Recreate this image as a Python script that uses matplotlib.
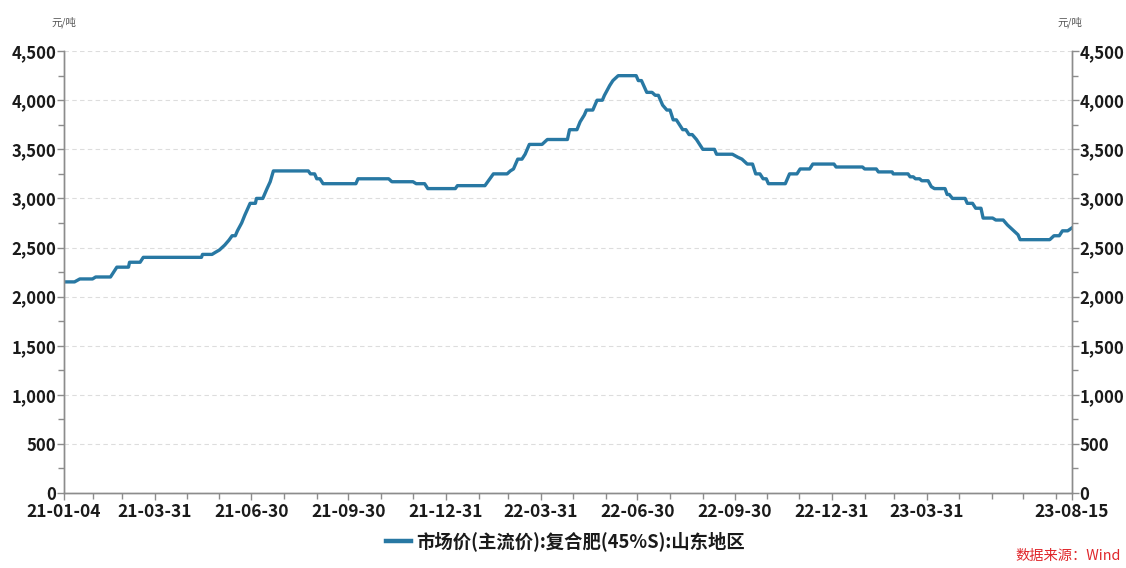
"""Compound fertilizer (45% S) market price, Shandong, 2021-01 to 2023-08."""

import matplotlib

matplotlib.use("Agg")

import matplotlib.pyplot as plt
import pandas as pd
from matplotlib.ticker import FuncFormatter, MultipleLocator

plt.rcParams["font.family"] = ["Noto Sans CJK SC", "DejaVu Sans"]

dates = [
    "2021-01-04", "2021-01-14", "2021-01-19", "2021-01-31", "2021-02-03", "2021-02-17",
    "2021-02-23", "2021-03-06", "2021-03-07", "2021-03-17", "2021-03-20", "2021-05-14",
    "2021-05-15", "2021-05-24", "2021-05-27", "2021-05-31", "2021-06-05", "2021-06-09",
    "2021-06-12", "2021-06-15", "2021-06-17", "2021-06-21", "2021-06-24", "2021-06-29",
    "2021-07-04", "2021-07-05", "2021-07-11", "2021-07-15", "2021-07-18", "2021-07-21",
    "2021-08-23", "2021-08-25", "2021-08-29", "2021-08-31", "2021-09-03", "2021-09-06",
    "2021-10-07", "2021-10-09", "2021-11-07", "2021-11-10", "2021-11-30", "2021-12-03",
    "2021-12-11", "2021-12-14", "2022-01-09", "2022-01-11", "2022-02-06", "2022-02-14",
    "2022-02-27", "2022-03-02", "2022-03-05", "2022-03-09", "2022-03-13", "2022-03-16",
    "2022-03-20", "2022-04-01", "2022-04-06", "2022-04-25", "2022-04-27", "2022-05-04",
    "2022-05-07", "2022-05-11", "2022-05-13", "2022-05-19", "2022-05-23", "2022-05-28",
    "2022-05-30", "2022-06-04", "2022-06-07", "2022-06-12", "2022-06-29", "2022-07-01",
    "2022-07-04", "2022-07-09", "2022-07-14", "2022-07-17", "2022-07-20", "2022-07-24",
    "2022-07-28", "2022-07-31", "2022-08-03", "2022-08-06", "2022-08-09", "2022-08-12",
    "2022-08-15", "2022-08-18", "2022-08-21", "2022-08-25", "2022-08-28", "2022-08-31",
    "2022-09-11", "2022-09-13", "2022-09-28", "2022-10-03", "2022-10-07", "2022-10-12",
    "2022-10-17", "2022-10-20", "2022-10-24", "2022-10-27", "2022-10-30", "2022-11-01",
    "2022-11-17", "2022-11-21", "2022-11-28", "2022-12-01", "2022-12-10", "2022-12-13",
    "2023-01-02", "2023-01-04", "2023-01-29", "2023-01-31", "2023-02-11", "2023-02-13",
    "2023-02-26", "2023-02-27", "2023-03-13", "2023-03-15", "2023-03-18", "2023-03-20",
    "2023-03-24", "2023-03-26", "2023-04-01", "2023-04-04", "2023-04-07", "2023-04-17",
    "2023-04-19", "2023-04-21", "2023-04-24", "2023-05-06", "2023-05-08", "2023-05-13",
    "2023-05-16", "2023-05-21", "2023-05-23", "2023-06-01", "2023-06-04", "2023-06-11",
    "2023-06-15", "2023-06-20", "2023-06-25", "2023-06-27", "2023-07-25", "2023-07-29",
    "2023-08-03", "2023-08-06", "2023-08-11", "2023-08-15",
]
prices = [
    2150, 2150, 2180, 2180, 2200, 2200,
    2300, 2300, 2350, 2350, 2400, 2400,
    2430, 2430, 2450, 2475, 2525, 2575,
    2620, 2620, 2670, 2750, 2830, 2950,
    2950, 3000, 3000, 3100, 3170, 3280,
    3280, 3250, 3250, 3200, 3200, 3150,
    3150, 3200, 3200, 3170, 3170, 3150,
    3150, 3100, 3100, 3130, 3130, 3250,
    3250, 3280, 3300, 3400, 3400, 3450,
    3550, 3550, 3600, 3600, 3700, 3700,
    3780, 3850, 3900, 3900, 4000, 4000,
    4050, 4150, 4200, 4250, 4250, 4200,
    4200, 4080, 4080, 4050, 4050, 3950,
    3900, 3900, 3800, 3800, 3750, 3700,
    3700, 3650, 3650, 3600, 3550, 3500,
    3500, 3450, 3450, 3420, 3400, 3350,
    3350, 3250, 3250, 3200, 3200, 3150,
    3150, 3250, 3250, 3300, 3300, 3350,
    3350, 3320, 3320, 3300, 3300, 3270,
    3270, 3250, 3250, 3220, 3220, 3200,
    3200, 3180, 3180, 3120, 3100, 3100,
    3040, 3040, 3000, 3000, 2950, 2950,
    2900, 2900, 2800, 2800, 2780, 2780,
    2730, 2680, 2630, 2580, 2580, 2620,
    2620, 2670, 2670, 2700,
]
tick_labels = [
    "2021-01-04", "2021-03-31", "2021-06-30", "2021-09-30", "2021-12-31",
    "2022-03-31", "2022-06-30", "2022-09-30", "2022-12-31", "2023-03-31", "2023-08-15",
]
series_name = "市场价(主流价):复合肥(45%S):山东地区"
unit = "元/吨"
source = "数据来源：Wind"

LINE_COLOR = "#2878a3"
SPINE_COLOR = "#8c8c8c"


def main() -> None:
    x = pd.to_datetime(dates)
    start, end = x[0], x[-1]

    figure = plt.figure(figsize=(11.26, 5.68), dpi=100)
    axis = figure.add_axes([0.0568, 0.132, 0.8952, 0.778])
    axis.plot(x, prices, color=LINE_COLOR, linewidth=2.4, label=series_name)

    axis.set_xlim(start, end)
    axis.set_ylim(0, 4500)
    axis.yaxis.set_major_locator(MultipleLocator(500))
    axis.yaxis.set_minor_locator(MultipleLocator(250))
    axis.yaxis.set_major_formatter(FuncFormatter(lambda v, _: f"{v:,.0f}"))
    axis.grid(axis="y", which="major", color="#dddddd", linestyle=(0, (4, 3)), linewidth=0.8)

    month_ends = pd.date_range(start, end, freq="ME")
    minor = [d for d in month_ends if d.strftime("%Y-%m-%d") not in tick_labels]
    major = pd.to_datetime(tick_labels)
    axis.set_xticks(major)
    axis.set_xticklabels([d.strftime("%y-%m-%d") for d in major])
    axis.set_xticks(minor, minor=True)

    twin = axis.twinx()
    twin.set_ylim(axis.get_ylim())
    twin.yaxis.set_major_locator(MultipleLocator(500))
    twin.yaxis.set_minor_locator(MultipleLocator(250))
    twin.yaxis.set_major_formatter(FuncFormatter(lambda v, _: f"{v:,.0f}"))

    for ax in (axis, twin):
        ax.spines["top"].set_visible(False)
        for side in ("left", "right", "bottom"):
            ax.spines[side].set_color(SPINE_COLOR)
            ax.spines[side].set_linewidth(1.0)
        ax.tick_params(which="both", color=SPINE_COLOR, width=1.0)
        ax.tick_params(which="major", length=5, labelsize=12, pad=0.5)
        ax.tick_params(which="minor", length=4.5)
        for label in ax.get_xticklabels() + ax.get_yticklabels():
            label.set_fontweight("bold")
            label.set_color("#1a1a1a")
    axis.tick_params(axis="x", labelsize=12.5, pad=2)

    figure.text(0.046, 0.955, unit, fontsize=7.5, color="#555555")
    figure.text(0.939, 0.955, unit, fontsize=7.5, color="#555555")

    legend = figure.legend(loc="center", bbox_to_anchor=(0.502, 0.047), frameon=False,
                           fontsize=13.2, handlelength=1.4, handletextpad=0.25)
    for text in legend.get_texts():
        text.set_fontweight("bold")
        text.set_color("#1a1a1a")
    for line in legend.get_lines():
        line.set_linewidth(3.2)

    figure.text(0.995, 0.008, source, fontsize=10.3, color="#e0262b", ha="right", va="bottom")

    figure.savefig("out.png", dpi=100)
    plt.close(figure)


if __name__ == "__main__":
    main()
